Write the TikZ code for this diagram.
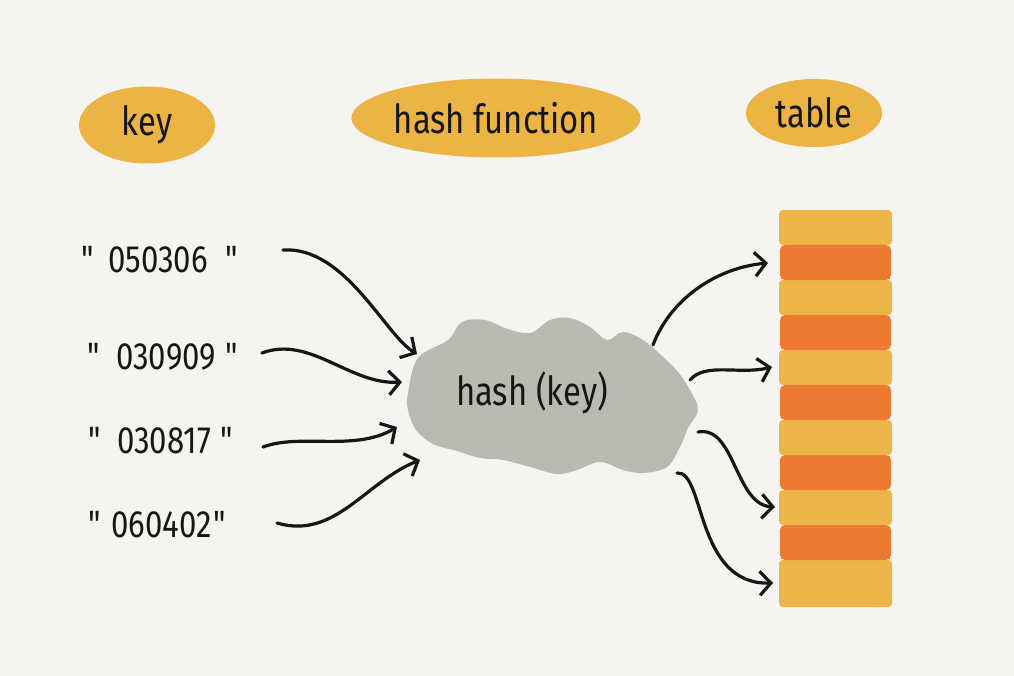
\documentclass[tikz,border=0pt]{standalone}
\usepackage{fontspec}
\setmainfont{Fira Sans}
\newfontfamily\hand[FakeStretch=0.82]{Fira Sans}
\usetikzlibrary{shapes.geometric,arrows.meta}
\definecolor{bg}{HTML}{F5F4F0}
\definecolor{blobc}{HTML}{EBB445}
\definecolor{tyel}{HTML}{EDB547}
\definecolor{torg}{HTML}{EC7A30}
\definecolor{cloudc}{HTML}{BAB9B2}
\definecolor{ink}{HTML}{161616}
\tikzset{
  blob/.style={ellipse, fill=blobc, inner sep=0pt, text=ink},
  headtxt/.style={font=\hand\fontsize{40}{46}\selectfont},
  keytxt/.style={font=\hand\fontsize{38}{44}\selectfont, text=ink, inner sep=0pt, anchor=west},
  yrow/.style={fill=tyel, rounded corners=4pt},
  orow/.style={fill=torg, rounded corners=5pt},
  arr/.style={draw=ink, line width=3.2pt, line cap=round,
    -{Straight Barb[length=11pt,width=24pt,line width=3.2pt]}}
}
\newcommand{\qq}{\textquotedbl}
\begin{document}
\begin{tikzpicture}[x=1pt,y=-1pt]
\fill[bg] (0,0) rectangle (1014,676);
\useasboundingbox (0,0) rectangle (1014,676);

% heading blobs
\node[blob, headtxt, minimum width=136pt, minimum height=77pt] (hkey) at (147,125) {key};
\node[blob, headtxt, minimum width=278pt, minimum height=79pt] (hfun) at (496,118) {hash function};
\node[blob, headtxt, minimum width=136pt, minimum height=68pt] (htab) at (814,113) {table};

% keys
\node[keytxt] (k1) at (81,260) {\qq\hspace{12pt}050306\hspace{18pt}\qq};
\node[keytxt] (k2) at (87,357) {\qq\hspace{14pt}030909\hspace{10pt}\qq};
\node[keytxt] (k3) at (88,441) {\qq\hspace{14pt}030817\hspace{10pt}\qq};
\node[keytxt] (k4) at (88,525) {\qq\hspace{8pt}060402\hspace{2pt}\qq};

% cloud
\fill[cloudc] plot[smooth cycle, tension=0.6] coordinates {
 (408,393) (418,358) (448,340) (462,322) (485,320) (505,328) (530,333) (550,320)
 (570,318) (590,327) (607,340) (623,332) (643,340) (662,356) (678,372) (690,390)
 (698,410) (688,428) (680,447) (667,467) (643,473) (623,470) (600,462)
 (577,470) (557,474) (530,467) (503,460) (480,458) (457,451) (433,444)
 (416,430) (408,410)};
\node[font=\hand\fontsize{40}{46}\selectfont, text=ink] (cloud) at (532,393) {hash (key)};

% table rows
\foreach \i/\ya/\yb in {0/210/245,2/280/315,4/350/385,6/420/455,8/490/525,10/560/607}{
  \path[yrow] (779,\ya) rectangle (892,\yb) node[midway] (t\i) {};
}
\foreach \i/\ya/\yb in {1/245/280,3/315/350,5/385/420,7/455/490,9/525/560}{
  \path[orow] (780,\ya) rectangle (891,\yb) node[midway] (t\i) {};
}

% connector end points
\coordinate (s1) at (283,250);
\coordinate (s2) at (262,353);
\coordinate (s3) at (263,447);
\coordinate (s4) at (277,523);
\coordinate (c1) at (417,354);
\coordinate (c2) at (402,382);
\coordinate (c3) at (397,427);
\coordinate (c4) at (420,460);
\coordinate (o1) at (653,345);
\coordinate (o2) at (690,380);
\coordinate (o3) at (698,432);
\coordinate (o4) at (677,473);
\coordinate (e1) at (768,263);
\coordinate (e2) at (772,367);
\coordinate (e3) at (775,507);
\coordinate (e4) at (773,583);

% left arrows
\draw[arr] (s1) .. controls (345,246) and (385,335) .. (c1);
\draw[arr] (s2) .. controls (310,335) and (350,385) .. (c2);
\draw[arr] (s3) .. controls (300,433) and (355,452) .. (c3);
\draw[arr] (s4) .. controls (335,540) and (365,482) .. (c4);

% right arrows
\draw[arr] (o1) .. controls (670,300) and (715,268) .. (e1);
\draw[arr] (o2) .. controls (705,362) and (740,375) .. (e2);
\draw[arr] (o3) .. controls (735,425) and (735,505) .. (e3);
\draw[arr] (o4) .. controls (705,470) and (695,585) .. (e4);
\end{tikzpicture}
\end{document}
